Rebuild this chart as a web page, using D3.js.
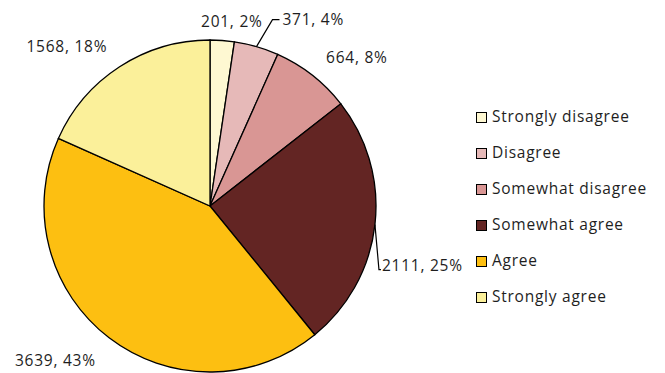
<!DOCTYPE html>
<html><head><meta charset="utf-8">
<script src="https://cdn.jsdelivr.net/npm/d3@7"></script>
<style>body{margin:0;background:#fff}svg{display:block}text{font-family:"Open Sans",sans-serif;fill:#1e1e1e;letter-spacing:0.75px}</style>
</head><body><svg id="c" width="665" height="373"></svg>
<script>
const categories = ["Strongly disagree","Disagree","Somewhat disagree","Somewhat agree","Agree","Strongly agree"];
const counts = [201, 371, 664, 2111, 3639, 1568];
const percents = ["2%","4%","8%","25%","43%","18%"];
const colors = ["#FEF8D2","#E6B9B8","#D99694","#632523","#FDBF11","#FBF09A"];

const svg = d3.select("#c");
const cx = 210, cy = 206, R = 166;
const g = svg.append("g").attr("transform", `translate(${cx},${cy})`);
const pie = d3.pie().sort(null).value(d => d)(counts);
const arc = d3.arc().innerRadius(0).outerRadius(R);
g.selectAll("path").data(pie).join("path")
  .attr("d", arc).attr("fill", (d,i) => colors[i])
  .attr("stroke", "#000").attr("stroke-width", 1.3);

const layout = [
  {r:186, da:2.5},
  {r:0, da:0},
  {r:209, da:6.6},
  {r:0, da:0},
  {r:219, da:7.5},
  {r:214, da:-9}
];
const fs = 15.5;
pie.forEach((d,i) => {
  const L = layout[i];
  const mid = (d.startAngle + d.endAngle)/2;
  const txt = `${counts[i]}, ${percents[i]}`;
  if (i === 1) {
    const p0 = [R*Math.sin(mid), -R*Math.cos(mid)];
    const p1 = [p0[0]+16, p0[1]-27];
    const p2 = [p1[0]+7, p1[1]];
    g.append("polyline").attr("points", [p0,p1,p2].map(p=>p.join(",")).join(" "))
      .attr("fill","none").attr("stroke","#000").attr("stroke-width",1.2);
    g.append("text").attr("x", p2[0]+3).attr("y", p2[1]+5).attr("font-size", fs).text(txt);
  } else if (i === 3) {
    const p0 = [R*Math.sin(mid), -R*Math.cos(mid)];
    const p1 = [p0[0]+4, p0[1]+45];
    const p2 = [p1[0]+2, p1[1]];
    g.append("polyline").attr("points", [p0,p1,p2].map(p=>p.join(",")).join(" "))
      .attr("fill","none").attr("stroke","#000").attr("stroke-width",1.2);
    g.append("text").attr("x", p2[0]+1).attr("y", p2[1]+1).attr("font-size", fs).text(txt);
  } else {
    const a = mid + L.da*Math.PI/180;
    const x = L.r*Math.sin(a), y = -L.r*Math.cos(a);
    g.append("text").attr("x", x).attr("y", y).attr("dy","0.35em")
      .attr("text-anchor", "middle").attr("font-size", fs).text(txt);
  }
});

const lg = svg.append("g").attr("transform","translate(476,117)");
const rows = lg.selectAll("g").data(categories).join("g")
  .attr("transform",(d,i)=>`translate(0,${i*36})`);
rows.append("rect").attr("x",0.5).attr("y",-4.5).attr("width",10).attr("height",10)
  .attr("fill",(d,i)=>colors[i]).attr("stroke","#000").attr("stroke-width",1);
rows.append("text").attr("x",16).attr("y",0).attr("dy","0.35em").attr("font-size",fs).text(d=>d);
</script></body></html>
